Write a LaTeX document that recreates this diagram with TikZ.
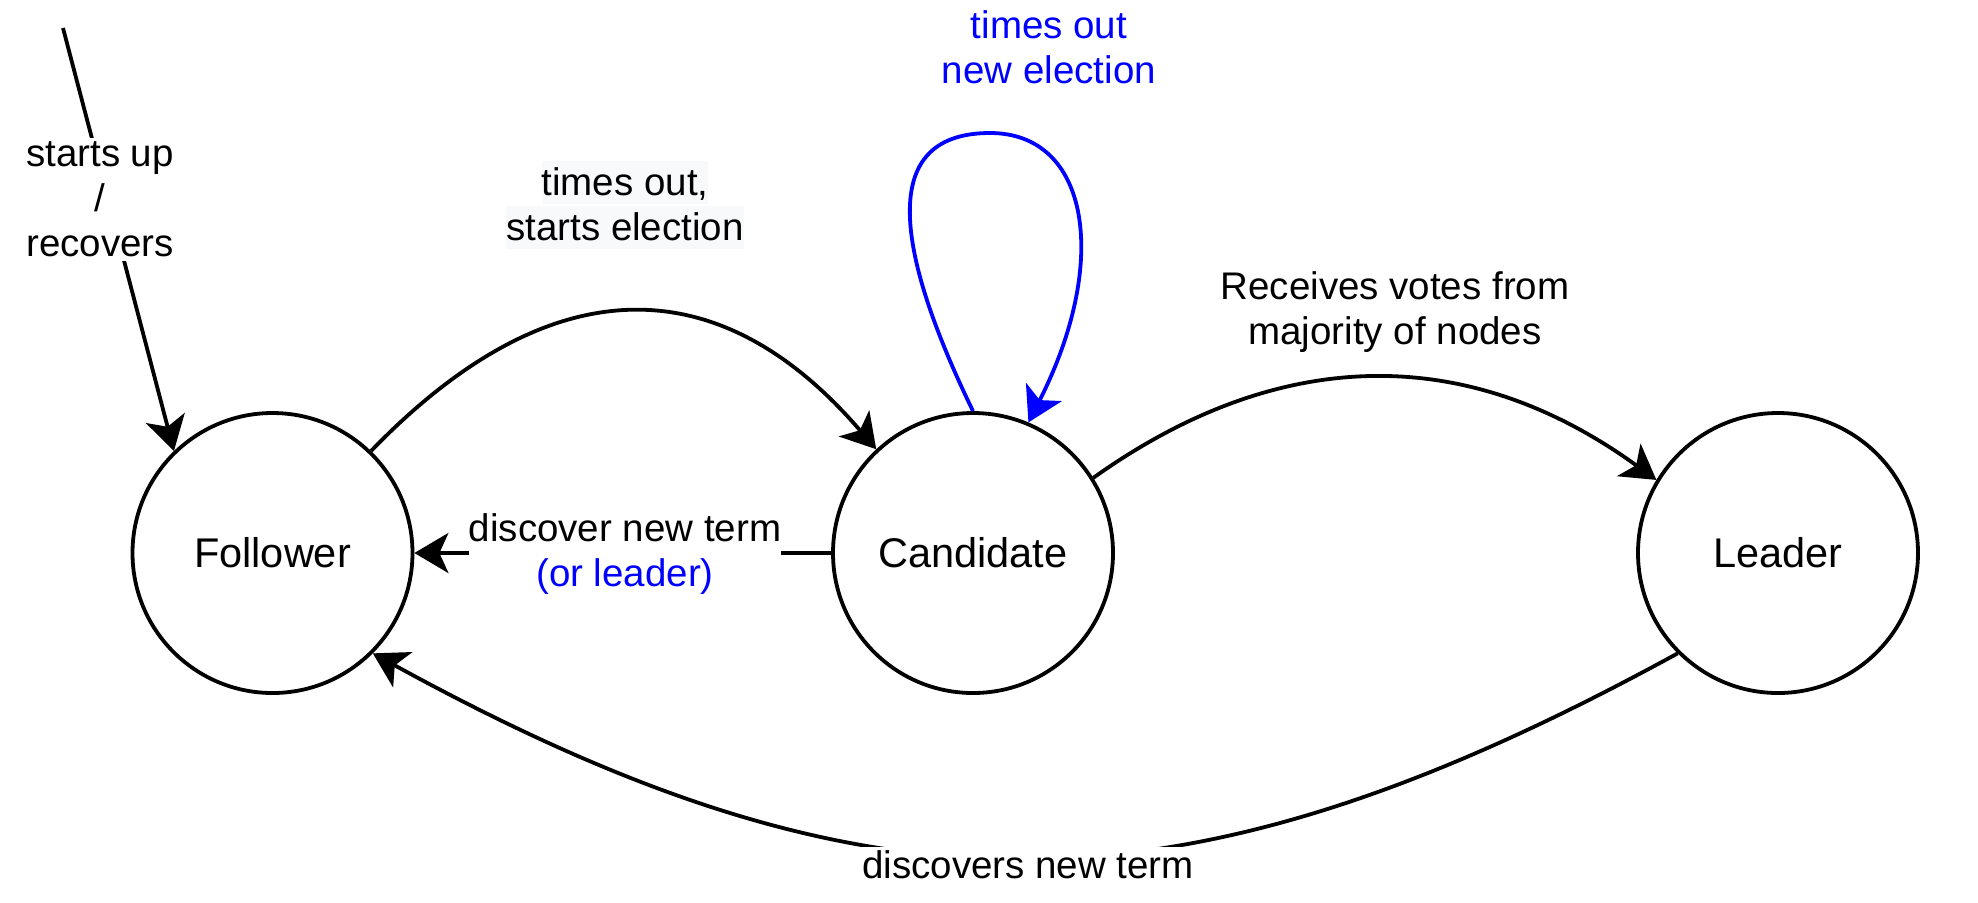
\documentclass[tikz,border=0pt]{standalone}
\usepackage{fontspec}
\setmainfont{Liberation Sans}
\usetikzlibrary{arrows.meta}
\definecolor{lbg}{HTML}{F8F9FA}
\definecolor{myblue}{HTML}{0000FF}
\setlength{\fboxsep}{0pt}
\newcommand{\lblrow}[1]{\colorbox{lbg}{\rule[-0.212em]{0pt}{1.117em}#1}}
\begin{document}
\begin{tikzpicture}[x=0.5pt,y=-0.5pt,
  state/.style={circle, draw=black, line width=1.9pt, minimum size=140pt, inner sep=0pt, font=\fontsize{20.75}{24}\selectfont},
  edge/.style={line width=1.9pt, -{Stealth[length=17pt,width=20pt,inset=4.5pt]}},
  loopedge/.style={edge, draw=myblue, color=myblue},
  lbl/.style={align=center, inner sep=0pt, font=\fontsize{19.25}{22.5}\selectfont},
  wlbl/.style={lbl, fill=white, inner ysep=2pt},
]
\useasboundingbox (0,0) rectangle (1978,902);
\node[state] (F) at (272.5,553) {Follower};
\node[state] (C) at (973,553) {Candidate};
\node[state] (L) at (1778,553) {Leader};
\coordinate (s0) at (63,28);
\coordinate (looptop) at (990,133);

% connectors
\draw[edge] (s0) -- (F.134);
\draw[edge] (F.46) .. controls (550,266) and (719,266) .. (C.133);
\draw[edge] (C.32) .. controls (1281,344) and (1469,344) .. (L.149);
\draw[edge] (C.west) -- (F.east);
\draw[edge] (L.225) .. controls (1180,926) and (870,926) .. (F.-45);
\draw[loopedge] (C.90) .. controls (890,240) and (882,133) .. (looptop)
   .. controls (1090,133) and (1110,262) .. (C.67);

% labels
\node[wlbl] (lstart) at (100,199.5) {starts up\\/\\recovers};
\node[lbl] (ltimeout) at (625,204.5) {\lblrow{times out,}\\\lblrow{starts election}};
\node[lbl] (lvotes) at (1395,311.7) {Receives votes from\\majority of nodes};
\node[wlbl] (ldisc) at (625,554) {discover new term\\\textcolor{myblue}{(or leader)}};
\node[wlbl] (ldiscs) at (1028,865.2) {discovers new term};
\node[lbl, text=myblue] (lloop) at (1049,47) {times out\\new election};
\end{tikzpicture}
\end{document}
